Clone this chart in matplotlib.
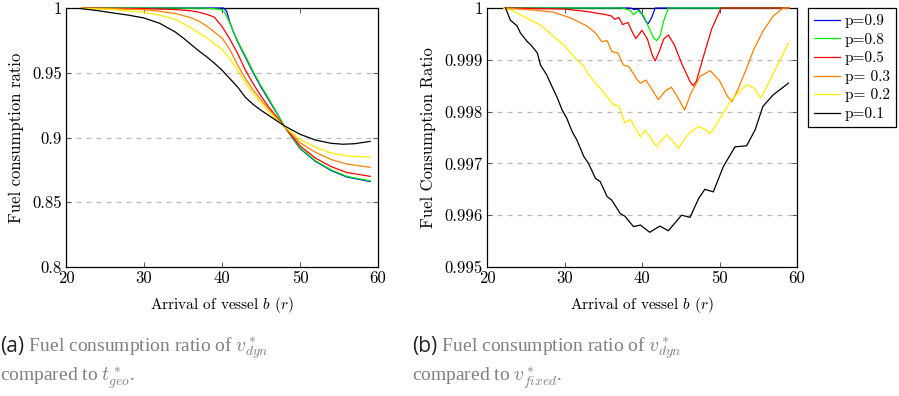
import matplotlib
matplotlib.use("Agg")
import matplotlib.pyplot as plt
from matplotlib.lines import Line2D

plt.rcParams['font.family'] = 'serif'
plt.rcParams['font.serif'] = ['cmr10']
plt.rcParams['mathtext.fontset'] = 'cm'
plt.rcParams['axes.formatter.use_mathtext'] = True

# ---- data ----
labels = ['p=0.9', 'p=0.8', 'p=0.5', 'p= 0.3', 'p= 0.2', 'p=0.1']
colors = ['#0000ff', '#00ee00', '#ff0000', '#ff8000', '#ffee00', '#000000']

# (a) ratio v_dyn / t_geo
geo_x_09 = [22, 30, 38, 40.2, 40.6, 41, 41.5, 42, 43, 44, 45, 46, 47, 48, 50, 52, 54, 56, 59]
geo_y_09 = [1.0, 1.0, 1.0, 1.0, 0.9975, 0.989, 0.981, 0.974, 0.962, 0.950, 0.939, 0.929, 0.919, 0.9085, 0.8915, 0.8815, 0.8745, 0.8695, 0.8660]
geo_x_08 = [22, 30, 38, 39.8, 40.3, 41, 41.5, 42, 43, 44, 45, 46, 47, 48, 50, 52, 54, 56, 59]
geo_y_08 = [1.0, 1.0, 0.9999, 0.999, 0.997, 0.9885, 0.981, 0.9745, 0.963, 0.951, 0.940, 0.930, 0.9195, 0.9085, 0.892, 0.882, 0.875, 0.870, 0.8665]
geo_x_05 = [22, 30, 34, 36, 37, 38, 39, 40, 41, 42, 43, 44, 45, 46, 47, 48, 50, 52, 54, 56, 59]
geo_y_05 = [1.0, 0.9995, 0.9988, 0.9978, 0.9968, 0.9952, 0.993, 0.9858, 0.976, 0.965, 0.952, 0.9415, 0.932, 0.9235, 0.916, 0.9085, 0.8935, 0.884, 0.8775, 0.873, 0.870]
geo_x_03 = [22, 26, 30, 32, 34, 36, 37, 38, 39, 40, 41, 42, 43, 44, 45, 46, 47, 48, 50, 52, 54, 56, 59]
geo_y_03 = [0.9999, 0.9996, 0.9987, 0.9975, 0.9958, 0.9925, 0.990, 0.9862, 0.9815, 0.9768, 0.968, 0.956, 0.9455, 0.9365, 0.929, 0.922, 0.915, 0.9085, 0.896, 0.8885, 0.883, 0.8795, 0.877]
geo_x_02 = [22, 26, 30, 32, 34, 35, 36, 37, 38, 39, 40, 41, 42, 43, 44, 45, 46, 47, 48, 50, 52, 54, 56, 59]
geo_y_02 = [0.9998, 0.9988, 0.9967, 0.9945, 0.9912, 0.988, 0.9848, 0.981, 0.977, 0.9725, 0.968, 0.961, 0.952, 0.9425, 0.934, 0.927, 0.920, 0.914, 0.9085, 0.8985, 0.8925, 0.888, 0.8858, 0.8848]
geo_x_01 = [22, 24, 26, 28, 30, 32, 34, 35, 36, 37, 38, 39, 40, 41, 42, 43, 44, 45, 46, 47, 48, 50, 52, 54, 55.5, 57, 59]
geo_y_01 = [0.9995, 0.998, 0.9962, 0.9945, 0.9923, 0.9882, 0.9815, 0.977, 0.972, 0.967, 0.9625, 0.9575, 0.952, 0.9455, 0.939, 0.931, 0.9255, 0.921, 0.917, 0.913, 0.909, 0.9025, 0.898, 0.8955, 0.8948, 0.8952, 0.897]

# (b) ratio v_dyn / v_fixed
fix_x_09 = [22.3, 38.5, 39.0, 39.5, 40.0, 40.5, 40.8, 41.2, 41.7, 59]
fix_y_09 = [1.0, 1.0, 0.99997, 0.99998, 0.99988, 0.99974, 0.99970, 0.99980, 1.0, 1.0]
fix_x_08 = [22.3, 37.5, 38.5, 38.9, 39.5, 40.2, 40.8, 41.5, 41.9, 42.3, 42.8, 43.4, 59]
fix_y_08 = [1.0, 1.0, 0.99995, 0.99987, 0.99995, 0.99985, 0.99965, 0.99942, 0.99937, 0.99945, 0.99975, 1.0, 1.0]
fix_x_05 = [22.3, 30, 33, 35, 36.0, 36.5, 37.0, 37.5, 38.2, 38.7, 39.2, 40.0, 40.7, 41.3, 41.7, 42.2, 42.8, 43.4, 44.2, 45.2, 46.2, 46.6, 47.0, 48.0, 49.0, 50.2, 59]
fix_y_05 = [1.0, 0.99998, 0.99993, 0.99988, 0.99985, 0.99978, 0.99982, 0.99968, 0.99972, 0.99955, 0.99941, 0.99957, 0.99940, 0.99910, 0.99898, 0.99915, 0.99940, 0.99948, 0.99928, 0.99890, 0.99858, 0.99850, 0.99858, 0.99910, 0.99960, 1.0, 1.0]
fix_x_03 = [22.15, 26.0, 28.6, 30.75, 32.0, 32.9, 34.0, 34.8, 35.5, 36.1, 36.9, 37.6, 38.3, 39.4, 39.8, 40.5, 41.2, 42.1, 43.0, 43.8, 44.7, 45.5, 46.3, 47.5, 48.8, 50.0, 51.0, 51.6, 52.3, 53.4, 54.4, 55.6, 56.9, 58.2, 59.0]
fix_y_03 = [1.0, 0.99996, 0.99992, 0.99981, 0.99972, 0.99965, 0.99952, 0.99935, 0.99937, 0.99916, 0.99913, 0.99890, 0.99887, 0.99861, 0.99855, 0.99861, 0.99845, 0.99823, 0.99840, 0.99847, 0.99825, 0.99803, 0.99835, 0.99868, 0.99879, 0.99860, 0.99830, 0.99819, 0.99840, 0.99880, 0.99919, 0.99955, 0.99984, 1.0, 1.0]
fix_x_02 = [22.15, 23.4, 25.6, 27.1, 28.6, 29.9, 31.0, 31.6, 32.5, 32.9, 33.8, 34.8, 35.5, 36.3, 37.0, 37.8, 38.5, 39.8, 40.4, 41.0, 41.9, 42.5, 43.2, 44.0, 44.7, 45.4, 46.2, 47.3, 48.2, 48.8, 50.0, 51.5, 53.5, 54.5, 55.3, 56.0, 57.5, 58.9]
fix_y_02 = [1.0, 0.99994, 0.99977, 0.99965, 0.99945, 0.99929, 0.99910, 0.99900, 0.99887, 0.99877, 0.99858, 0.99842, 0.99829, 0.99813, 0.99811, 0.99778, 0.99785, 0.99751, 0.99764, 0.99752, 0.99732, 0.99745, 0.99755, 0.99742, 0.99729, 0.99745, 0.99760, 0.99771, 0.99765, 0.99757, 0.99785, 0.99822, 0.99852, 0.99845, 0.99826, 0.99845, 0.99890, 0.99932]
fix_x_01 = [22.4, 23.0, 23.9, 24.3, 25.2, 25.7, 26.5, 26.9, 27.7, 28.4, 29.0, 29.7, 30.3, 31.0, 31.6, 32.5, 33.1, 34.0, 34.6, 35.5, 36.1, 37.2, 37.8, 38.9, 39.8, 41.0, 42.3, 43.4, 45.1, 46.2, 47.3, 48.1, 49.2, 50.5, 52.0, 53.5, 54.6, 55.6, 56.9, 58.9]
fix_y_01 = [1.0, 0.99977, 0.99965, 0.99952, 0.99935, 0.99928, 0.99913, 0.99890, 0.99871, 0.99848, 0.99829, 0.99803, 0.99787, 0.99761, 0.99745, 0.99713, 0.99700, 0.99671, 0.99665, 0.99636, 0.99629, 0.99603, 0.99598, 0.99578, 0.99581, 0.99567, 0.99579, 0.99570, 0.99600, 0.99596, 0.99632, 0.99650, 0.99645, 0.99694, 0.99732, 0.99734, 0.99765, 0.99810, 0.99832, 0.99855]

geo_series = [(geo_x_09, geo_y_09), (geo_x_08, geo_y_08), (geo_x_05, geo_y_05),
              (geo_x_03, geo_y_03), (geo_x_02, geo_y_02), (geo_x_01, geo_y_01)]
fix_series = [(fix_x_09, fix_y_09), (fix_x_08, fix_y_08), (fix_x_05, fix_y_05),
              (fix_x_03, fix_y_03), (fix_x_02, fix_y_02), (fix_x_01, fix_y_01)]

x_ticks = [20, 30, 40, 50, 60]
geo_ticks = [0.8, 0.85, 0.9, 0.95, 1.0]
geo_ticklabels = ['0.8', '0.85', '0.9', '0.95', '1']
fix_ticks = [0.995, 0.996, 0.997, 0.998, 0.999, 1.0]
fix_ticklabels = ['0.995', '0.996', '0.997', '0.998', '0.999', '1']

W, H = 899, 396
fig = plt.figure(figsize=(W / 100, H / 100), dpi=100)
ax1 = fig.add_axes([66 / W, 1 - 267 / H, 312 / W, 259 / H])
ax2 = fig.add_axes([487 / W, 1 - 267 / H, 310 / W, 259 / H])


def style(ax, ticks, ticklabels, ylo, ylabel):
    ax.set_xlim(20, 60)
    ax.set_ylim(ylo, 1.0)
    ax.set_xticks(x_ticks)
    ax.set_xticklabels([str(t) for t in x_ticks])
    ax.set_yticks(ticks)
    ax.set_yticklabels(ticklabels)
    for g in ticks[1:]:
        ax.axhline(g, color='#bbbbbb', lw=0.9, ls=(0, (4, 4)), zorder=0)
    ax.tick_params(direction='in', top=True, right=True, length=3.5, width=0.7,
                   color='#555555', labelsize=12, pad=3)
    for s in ax.spines.values():
        s.set_linewidth(0.9)
    ax.set_xlabel('Arrival of vessel $b$ ($r$)', fontsize=11, labelpad=6)
    ax.set_ylabel(ylabel, fontsize=12, labelpad=6)


# lines drawn over the frame, like the original
for (x, y), c in zip(geo_series, colors):
    ax1.plot(x, y, color=c, lw=0.9, clip_on=False, zorder=3)
for (x, y), c in zip(fix_series, colors):
    ax2.plot(x, y, color=c, lw=0.9, clip_on=False, zorder=3)

style(ax1, geo_ticks, geo_ticklabels, 0.8, 'Fuel consumption ratio')
style(ax2, fix_ticks, fix_ticklabels, 0.995, 'Fuel Consumption Ratio')

handles = [Line2D([], [], color=c, lw=0.9) for c in colors]
leg = fig.legend(handles, labels, loc='upper left', bbox_to_anchor=(808 / W, 1 - 8 / H),
                 fontsize=11, frameon=True, fancybox=False, edgecolor='black',
                 framealpha=1, handlelength=1.7, handletextpad=0.3, labelspacing=0.3,
                 borderpad=0.4, borderaxespad=0)
leg.get_frame().set_linewidth(0.9)

# captions
cap_gray = '#808080'
for x0, tag, l1, l2 in [(0, '(a)', r' Fuel consumption ratio of $v^*_{dyn}$', r'compared to $t^*_{geo}$.'),
                        (412, '(b)', r' Fuel consumption ratio of $v^*_{dyn}$', r'compared to $v^*_{fixed}$.')]:
    t = fig.text(x0 / W, 1 - 352 / H, tag, fontsize=15, color='#222222', family='Open Sans',
                 ha='left', va='baseline')
    fig.canvas.draw()
    bb = t.get_window_extent()
    fig.text(bb.x1 / W, 1 - 352 / H, l1, fontsize=14, color=cap_gray, family='Liberation Serif',
             ha='left', va='baseline')
    fig.text(x0 / W, 1 - 382 / H, l2, fontsize=14, color=cap_gray, family='Liberation Serif',
             ha='left', va='baseline')

fig.savefig('out.png', dpi=100)
